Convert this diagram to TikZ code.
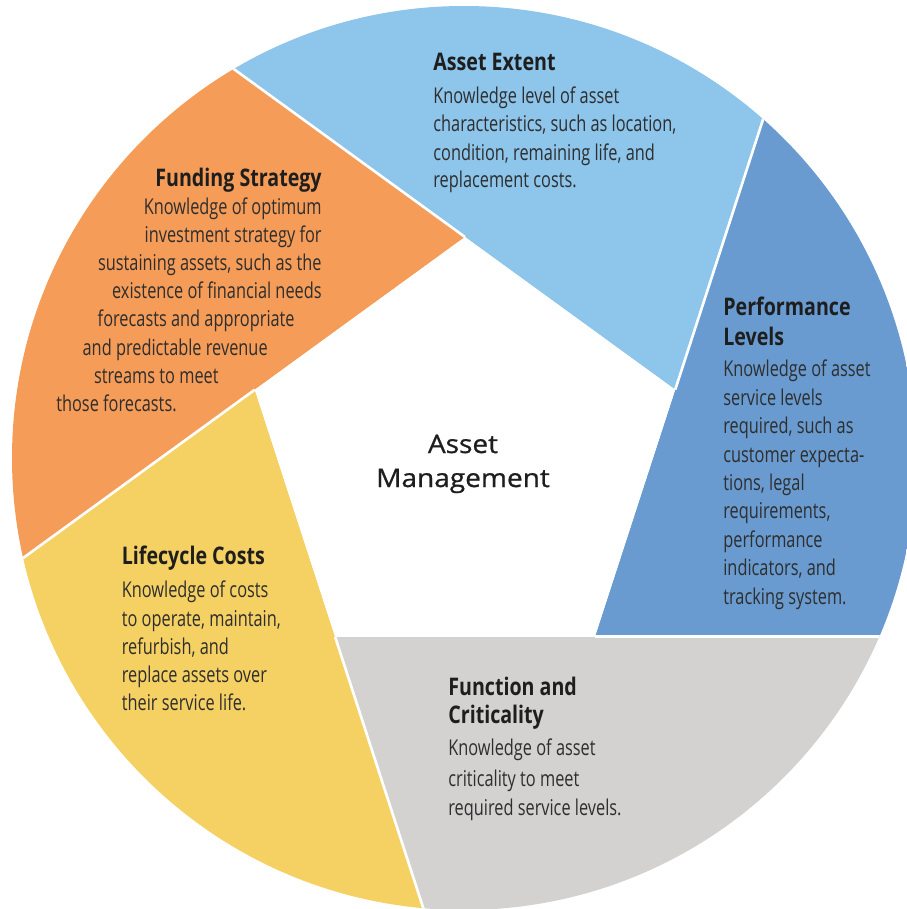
\documentclass[tikz,border=0pt]{standalone}
\usepackage{fontspec}
\usetikzlibrary{calc}
\newfontfamily\bodyfont{Open Sans}[FakeStretch=0.75]
\newfontfamily\headfont{Open Sans}[FakeStretch=0.81]
\newfontfamily\centfont{Open Sans}[FakeStretch=1.1, FakeBold=0.8]
\definecolor{cLight}{HTML}{8DC5EB}
\definecolor{cBlue}{HTML}{699BD0}
\definecolor{cGray}{HTML}{D3D2D1}
\definecolor{cYellow}{HTML}{F5D163}
\definecolor{cOrange}{HTML}{F59C58}
\definecolor{cBody}{HTML}{2E2E2E}
\definecolor{cHead}{HTML}{1E1E1E}
\tikzset{
  body/.style={font=\bodyfont\fontsize{12.4}{14}\selectfont, text=cBody, inner sep=0pt},
  head/.style={font=\headfont\bfseries\fontsize{13.8}{16}\selectfont, text=cHead, inner sep=0pt},
  centre/.style={font=\centfont\fontsize{14.5}{17}\selectfont, text=cHead, inner sep=0pt, anchor=base},
  sep/.style={white, line width=1.5pt}
}
\begin{document}
\begin{tikzpicture}[x=0.02cm,y=-0.02cm]
\useasboundingbox (0,0) rectangle (906,909);
\coordinate (C) at (464,458);
\coordinate (P0) at (465,237);
\coordinate (P1) at (675.2,389.7);
\coordinate (P2) at (594.9,636.8);
\coordinate (P3) at (335.1,636.8);
\coordinate (P4) at (254.8,389.7);
% far points of the extended pentagon edges
\coordinate (E0) at ($(P1)!6!(P0)$);
\coordinate (E1) at ($(P2)!6!(P1)$);
\coordinate (E2) at ($(P3)!6!(P2)$);
\coordinate (E3) at ($(P4)!6!(P3)$);
\coordinate (E4) at ($(P0)!6!(P4)$);
\begin{scope}
  \clip (C) circle [radius=452];
  \fill[cLight]  (P0) -- (E0) -- (E1) -- (P1) -- cycle;
  \fill[cBlue]   (P1) -- (E1) -- (E2) -- (P2) -- cycle;
  \fill[cGray]   (P2) -- (E2) -- (E3) -- (P3) -- cycle;
  \fill[cYellow] (P3) -- (E3) -- (E4) -- (P4) -- cycle;
  \fill[cOrange] (P4) -- (E4) -- (E0) -- (P0) -- cycle;
  \fill[white] (P0) -- (P1) -- (P2) -- (P3) -- (P4) -- cycle;
  \draw[sep] (P0) -- (E0);
  \draw[sep] (P1) -- (E1);
  \draw[sep] (P2) -- (E2);
  \draw[sep] (P3) -- (E3);
  \draw[sep] (P4) -- (E4);
\end{scope}
% centre
\node[centre] (cA) at (463,453) {Asset};
\node[centre] (cM) at (463,487) {Management};
% Asset Extent
\node[head, anchor=base west] (aeT) at (433,70.5) {Asset Extent};
\foreach \t/\y [count=\i] in {{Knowledge level of asset}/104,{characteristics, such as location,}/132,{condition, remaining life, and}/160,{replacement costs.}/187.5}
  \node[body, anchor=base west] (ae\i) at (433,\y) {\t};
% Funding Strategy
\node[head, anchor=base east] (fsT) at (322,186) {Funding Strategy};
\foreach \t/\x/\y [count=\i] in {{Knowledge of optimum}/322/214,{investment strategy for}/322/242,{sustaining assets, such as the}/322/270,{existence of financial needs}/322/298,{forecasts and appropriate}/295/326.5,{and predictable revenue}/268/355,{streams to meet}/219/383,{those forecasts.}/177/411.5}
  \node[body, anchor=base east] (fs\i) at (\x,\y) {\t};
% Performance Levels
\node[head, anchor=base west] (plT1) at (723,315.5) {Performance};
\node[head, anchor=base west] (plT2) at (723,345) {Levels};
\foreach \t/\y [count=\i] in {{Knowledge of asset}/376.5,{service levels}/405.5,{required, such as}/433.5,{customer expecta-}/462,{tions, legal}/490,{requirements,}/518.5,{performance}/547,{indicators, and}/575.5,{tracking system.}/604}
  \node[body, anchor=base west] (pl\i) at (723,\y) {\t};
% Lifecycle Costs
\node[head, anchor=base west] (lcT) at (121.5,564) {Lifecycle Costs};
\foreach \t/\y [count=\i] in {{Knowledge of costs}/597.5,{to operate, maintain,}/626,{refurbish, and}/654,{replace assets over}/682.5,{their service life.}/710}
  \node[body, anchor=base west] (lc\i) at (121.5,\y) {\t};
% Function and Criticality
\node[head, anchor=base west] (fcT1) at (448,695) {Function and};
\node[head, anchor=base west] (fcT2) at (448,723) {Criticality};
\foreach \t/\y [count=\i] in {{Knowledge of asset}/755.5,{criticality to meet}/786.5,{required service levels.}/815}
  \node[body, anchor=base west] (fc\i) at (448,\y) {\t};
\end{tikzpicture}
\end{document}
